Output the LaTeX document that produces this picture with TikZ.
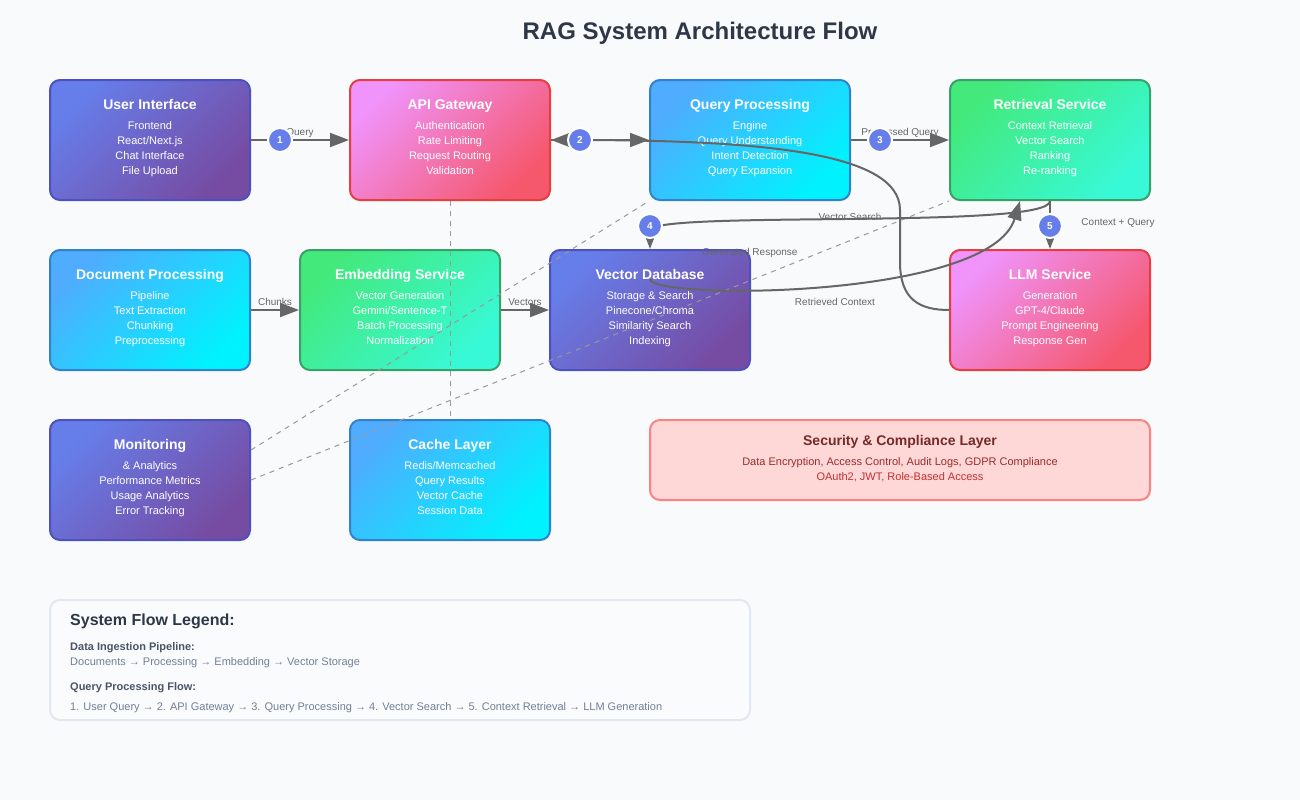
\documentclass[tikz,border=0pt]{standalone}
\usepackage{fontspec}
\setmainfont{Liberation Sans}
\usetikzlibrary{arrows.meta}
\definecolor{bgc}{HTML}{F8FAFC}
\definecolor{titlec}{HTML}{2D3748}
\definecolor{purA}{HTML}{667EEA}
\definecolor{purB}{HTML}{764BA2}
\definecolor{purD}{HTML}{4C51BF}
\definecolor{pinA}{HTML}{F093FB}
\definecolor{pinB}{HTML}{F5576C}
\definecolor{pinD}{HTML}{E53E3E}
\definecolor{bluA}{HTML}{4FACFE}
\definecolor{bluB}{HTML}{00F2FE}
\definecolor{bluD}{HTML}{3182CE}
\definecolor{greA}{HTML}{43E97B}
\definecolor{greB}{HTML}{38F9D7}
\definecolor{greD}{HTML}{38A169}
\definecolor{arrc}{HTML}{666666}
\definecolor{dashc}{HTML}{999999}
\definecolor{numc}{HTML}{667EEA}
\definecolor{secfill}{HTML}{FED7D7}
\definecolor{secdraw}{HTML}{FC8181}
\definecolor{secT}{HTML}{742A2A}
\definecolor{secL}{HTML}{9B2C2C}
\definecolor{secM}{HTML}{C53030}
\definecolor{legfill}{HTML}{FAFBFC}
\definecolor{legdraw}{HTML}{E2E8F0}
\definecolor{legH}{HTML}{4A5568}
\definecolor{legT}{HTML}{718096}
\newcommand{\fsz}[1]{\fontsize{#1}{#1}\selectfont}
\newcommand{\archbox}[8]{%
  \node[#3] (#1) at #2 {};
  \node[ttl] (#1-t) at ([yshift=-30pt]#1.north) {#4};
  \node[ln] (#1-a) at ([yshift=-50pt]#1.north) {#5};
  \node[ln] (#1-b) at ([yshift=-65pt]#1.north) {#6};
  \node[ln] (#1-c) at ([yshift=-80pt]#1.north) {#7};
  \node[ln] (#1-d) at ([yshift=-95pt]#1.north) {#8};
}
\begin{document}
\begin{tikzpicture}[x=1pt,y=-1pt,
  box/.style={minimum width=200pt, minimum height=120pt, rounded corners=10pt, line width=2pt, inner sep=0pt},
  purplebox/.style={box, draw=purD, top color=purA, bottom color=purB, shading angle=45},
  pinkbox/.style={box, draw=pinD, top color=pinA, bottom color=pinB, shading angle=45},
  bluebox/.style={box, draw=bluD, top color=bluA, bottom color=bluB, shading angle=45},
  greenbox/.style={box, draw=greD, top color=greA, bottom color=greB, shading angle=45},
  ttl/.style={anchor=base, inner sep=0pt, text=white, font=\bfseries\fsz{14}},
  ln/.style={anchor=base, inner sep=0pt, text=white, font=\fsz{11}},
  flow/.style={draw=arrc, line width=2pt, -{Triangle[length=19pt,width=14pt]}},
  dashline/.style={draw=dashc, line width=1pt, dash pattern=on 5pt off 5pt},
  elabel/.style={anchor=base, inner sep=0pt, text=arrc, font=\fsz{10}},
  numcirc/.style={circle, fill=numc, draw=white, line width=2pt, minimum size=24pt, inner sep=0pt, text=white, font=\bfseries\fsz{10}},
  legtext/.style={anchor=base west, inner sep=0pt, text=legT, font=\fsz{11}},
  leghead/.style={anchor=base west, inner sep=0pt, text=legH, font=\bfseries\fsz{11}}
]
\fill[bgc] (0,0) rectangle (1300,800);
\useasboundingbox (0,0) rectangle (1300,800);

\node[anchor=base, inner sep=0pt, text=titlec, font=\bfseries\fsz{24}] (title) at (700,40) {RAG System Architecture Flow};

\archbox{ui}{(150,140)}{purplebox}{User Interface}{Frontend}{React/Next.js}{Chat Interface}{File Upload}
\archbox{api}{(450,140)}{pinkbox}{API Gateway}{Authentication}{Rate Limiting}{Request Routing}{Validation}
\archbox{qp}{(750,140)}{bluebox}{Query Processing}{Engine}{Query Understanding}{Intent Detection}{Query Expansion}
\archbox{ret}{(1050,140)}{greenbox}{Retrieval Service}{Context Retrieval}{Vector Search}{Ranking}{Re-ranking}
\archbox{doc}{(150,310)}{bluebox}{Document Processing}{Pipeline}{Text Extraction}{Chunking}{Preprocessing}
\archbox{emb}{(400,310)}{greenbox}{Embedding Service}{Vector Generation}{Gemini/Sentence-T}{Batch Processing}{Normalization}
\archbox{vdb}{(650,310)}{purplebox}{Vector Database}{Storage \& Search}{Pinecone/Chroma}{Similarity Search}{Indexing}
\archbox{llm}{(1050,310)}{pinkbox}{LLM Service}{Generation}{GPT-4/Claude}{Prompt Engineering}{Response Gen}
\archbox{mon}{(150,480)}{purplebox}{Monitoring}{\& Analytics}{Performance Metrics}{Usage Analytics}{Error Tracking}
\archbox{cache}{(450,480)}{bluebox}{Cache Layer}{Redis/Memcached}{Query Results}{Vector Cache}{Session Data}

% security layer
\node[minimum width=500pt, minimum height=80pt, rounded corners=10pt, line width=2pt, draw=secdraw, fill=secfill] (sec) at (900,460) {};
\node[anchor=base, inner sep=0pt, text=secT, font=\bfseries\fsz{14}] (sec-t) at (900,445) {Security \& Compliance Layer};
\node[anchor=base, inner sep=0pt, text=secL, font=\fsz{11}] (sec-a) at (900,465) {Data Encryption, Access Control, Audit Logs, GDPR Compliance};
\node[anchor=base, inner sep=0pt, text=secM, font=\fsz{11}] (sec-b) at (900,480) {OAuth2, JWT, Role-Based Access};

% legend
\node[minimum width=700pt, minimum height=120pt, rounded corners=10pt, line width=2pt, draw=legdraw, fill=legfill] (leg) at (400,660) {};
\node[anchor=base west, inner sep=0pt, text=titlec, font=\bfseries\fsz{16}] (leg-t) at (70,625) {System Flow Legend:};
\node[leghead] (leg-h1) at (70,650) {Data Ingestion Pipeline:};
\node[legtext] (leg-l1) at (70,665) {Documents → Processing → Embedding → Vector Storage};
\node[leghead] (leg-h2) at (70,690) {Query Processing Flow:};
\node[legtext] (leg-l2) at (70,710) {1. User Query → 2. API Gateway → 3. Query Processing → 4. Vector Search → 5. Context Retrieval → LLM Generation};

% dashed relations
\draw[dashline] (api.south) -- (cache.north);
\draw[dashline] ([yshift=30pt]mon.east) -- (qp.south west);
\draw[dashline] (mon.east) -- (ret.south west);

% flows
\draw[flow] (ui.east) -- (api.west);
\draw[flow] (api.east) -- (qp.west);
\draw[flow] (qp.east) -- (ret.west);
\draw[flow] (doc.east) -- (emb.west);
\draw[flow] (emb.east) -- (vdb.west);
\draw[flow] (ret.south) -- (llm.north);
\draw[flow] (ret.south) .. controls (1050,230) and (650,210) .. (vdb.north);
\draw[flow] ([yshift=-30pt]vdb.north) .. controls (650,300) and (990,300) .. ([xshift=-30pt]ret.south);
\draw[flow] (llm.west) .. controls (920,310) and (900,300) .. (900,262) -- (900,210) .. controls (900,150) and (750,140) .. (api.east);

% edge labels
\node[elabel] (lb-q) at (300,135) {Query};
\node[elabel] (lb-pq) at (900,135) {Processed Query};
\node[elabel] (lb-ch) at (275,305) {Chunks};
\node[elabel] (lb-ve) at (525,305) {Vectors};
\node[elabel] (lb-vs) at (850,220) {Vector Search};
\node[elabel] (lb-rc) at (835,305) {Retrieved Context};
\node[elabel] (lb-gr) at (750,255) {Generated Response};
\node[elabel] (lb-cq) at (1118,225) {Context + Query};

% step numbers
\node[numcirc] (n1) at (280,140) {1};
\node[numcirc] (n2) at (580,140) {2};
\node[numcirc] (n3) at (880,140) {3};
\node[numcirc] (n4) at (650,226) {4};
\node[numcirc] (n5) at (1050,226) {5};
\end{tikzpicture}
\end{document}
